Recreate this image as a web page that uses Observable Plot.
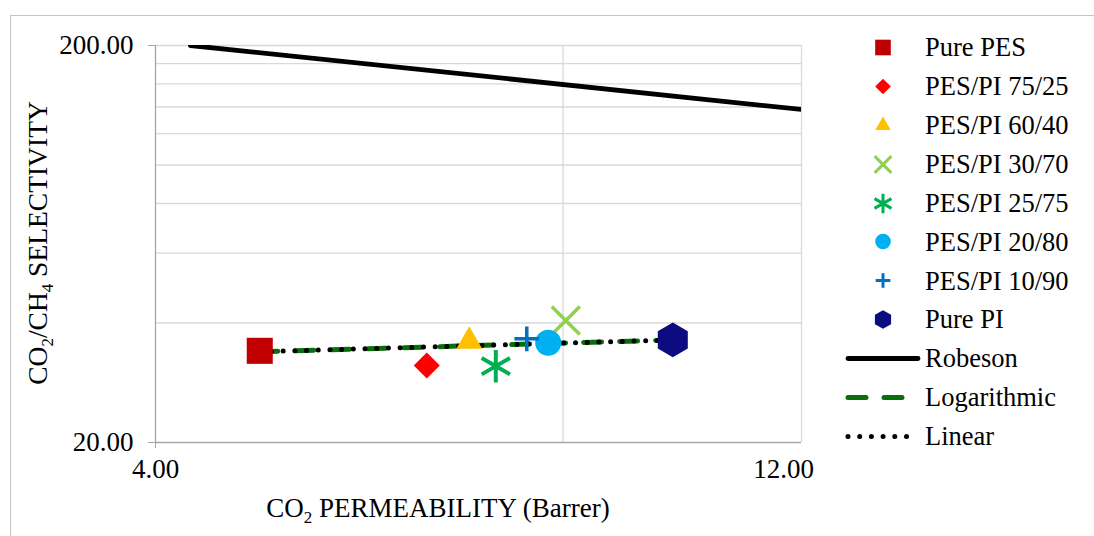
<!DOCTYPE html>
<html><head><meta charset="utf-8">
<script src="https://cdn.jsdelivr.net/npm/d3@7"></script>
<script src="https://cdn.jsdelivr.net/npm/@observablehq/plot@0.6"></script>
<style>
body{margin:0;background:#fff;}
#wrap, #wrap *{font-family:"Liberation Serif","Times New Roman",serif !important;}
#wrap{position:relative;width:1094px;height:536px;overflow:hidden;background:#fff;}
#border{position:absolute;left:10px;top:15px;width:1200px;height:600px;border:1px solid #c6c6c6;box-sizing:border-box;}
#chart{position:absolute;left:0;top:0;}
#chart svg text{font-family:"Liberation Serif",serif !important;}
.title{position:absolute;font-size:27px;color:#000;white-space:nowrap;line-height:1;}
.title sub{font-size:17px;vertical-align:-6px;line-height:0;}
#ytitle{left:38px;top:243px;font-size:27.5px;transform:translate(-50%,-50%) rotate(-90deg);}
#xtitle{left:438px;top:508px;transform:translate(-50%,-50%);}
#legend{position:absolute;left:845px;top:28px;}
.row{display:flex;align-items:center;height:38.9px;}
.row svg{width:80px;height:38.9px;flex:none;}
.row span{font-size:26.5px;color:#000;white-space:nowrap;line-height:1;}
</style>
</head><body>
<div id="wrap">
  <div id="border"></div>
  <div id="chart"></div>
  <div class="title" id="ytitle">CO<sub>2</sub>/CH<sub>4</sub> SELECTIVITY</div>
  <div class="title" id="xtitle">CO<sub>2</sub> PERMEABILITY (Barrer)</div>
  <div id="legend"></div>
</div>
<script>
// ---- data ----
const series = ["Pure PES","PES/PI 75/25","PES/PI 60/40","PES/PI 30/70","PES/PI 25/75","PES/PI 20/80","PES/PI 10/90","Pure PI"];
const permeability = [4.776, 6.345, 6.82, 8.037, 7.135, 7.80, 7.521, 9.641];
const selectivity  = [34.04, 31.26, 36.82, 40.59, 31.13, 35.67, 36.49, 36.28];
const robesonX = [4.245, 12];
const robesonY = [200, 138.0];
const logTrendX = [4.776, 9.641];
const logTrendY = [33.85, 36.25];
const linTrendX = [4.776, 9.641];
const linTrendY = [33.85, 36.25];
const xTicks = [4, 12];
const yTicks = [20, 200];
const xGrid = [8, 12];
const yGrid = [40, 60, 80, 100, 120, 140, 160, 180, 200];

// ---- styles ----
const styles = [
  {symbol:"square",  fill:"#C00000", r:14.7},
  {symbol:"square",  fill:"#FF0000", r:10.4, rotate:45},
  {symbol:"triangle",fill:"#FFC000", r:9.6, dy:4},
  {symbol:"times",   stroke:"#92D050", r:12.8, sw:3.5},
  {symbol:"asterisk",stroke:"#00B050", r:15.5, sw:4},
  {symbol:"circle",  fill:"#00B0F0", r:13},
  {symbol:"plus",    stroke:"#0070C0", r:8, sw:3.5},
  {symbol:"hexagon", fill:"#0C0C80", r:15}
];

const points = series.map((s,i)=>({series:s, x:permeability[i], y:selectivity[i], i}));
const toXY = (xs,ys)=>xs.map((x,i)=>({x, y:ys[i]}));

const dotMarks = points.map(p=>{
  const st = styles[p.i];
  const o = {x:"x", y:"y", symbol:()=>st.symbol, r:st.r};
  if (st.fill){ o.fill = st.fill; o.stroke = "none"; }
  else { o.fill = "none"; o.stroke = st.stroke; o.strokeWidth = st.sw; }
  if (st.rotate) o.rotate = st.rotate;
  if (st.dy) o.dy = st.dy;
  return Plot.dot([p], o);
});

const fmt = d=>d.toFixed(2);
const chart = Plot.plot({
  width:1094, height:536,
  marginLeft:155, marginRight:293, marginTop:45, marginBottom:94,
  style:{fontFamily:"Liberation Serif, serif", fontSize:"27px", color:"#000", background:"transparent", overflow:"visible"},
  x:{type:"log", domain:[4,12]},
  y:{type:"log", domain:[20,200]},
  symbol:{type:"identity"},
  marks:[
    Plot.ruleY(yGrid, {stroke:"#d9d9d9", strokeWidth:1.3}),
    Plot.ruleX(xGrid, {stroke:"#d9d9d9", strokeWidth:1.3}),
    Plot.ruleX([4], {stroke:"#a6a6a6", strokeWidth:1.3}),
    Plot.ruleY([20], {stroke:"#a6a6a6", strokeWidth:1.3}),
    Plot.axisY(yTicks, {tickSize:7, tickPadding:15, tickFormat:fmt, stroke:"#a6a6a6", fill:"#000", fontSize:27, label:null}),
    Plot.axisX([xTicks[0]], {tickSize:6, tickPadding:10, tickFormat:fmt, stroke:"#a6a6a6", fill:"#000", fontSize:27, label:null}),
    Plot.axisX([xTicks[1]], {tickSize:0, tickPadding:16, tickFormat:fmt, fill:"#000", fontSize:27, label:null, dx:-18}),
    Plot.line(toXY(robesonX, robesonY), {x:"x", y:"y", stroke:"#000", strokeWidth:4.8, clip:true}),
    Plot.line(toXY(logTrendX, logTrendY), {x:"x", y:"y", stroke:"#0a6e0a", strokeWidth:5, strokeDasharray:"18,18", strokeLinecap:"round"}),
    Plot.line(toXY(linTrendX, linTrendY), {x:"x", y:"y", stroke:"#000", strokeWidth:5, strokeDasharray:"0,11.7", strokeLinecap:"round"}),
    ...dotMarks
  ]
});
document.getElementById("chart").appendChild(chart);

// ---- legend ----
const legend = document.getElementById("legend");
const ns = "http://www.w3.org/2000/svg";
const symMap = {square:d3.symbolSquare, triangle:d3.symbolTriangle, times:d3.symbolTimes, asterisk:d3.symbolAsterisk, circle:d3.symbolCircle, plus:d3.symbolPlus};
function hexPath(r){ const rx=r, ry=r*Math.sqrt(4/3), hy=ry/2;
  return `M0,${ry}L${rx},${hy}L${rx},${-hy}L0,${-ry}L${-rx},${-hy}L${-rx},${hy}Z`; }
series.forEach((s,i)=>{
  const st = styles[i];
  const row = document.createElement("div"); row.className="row";
  const svg = document.createElementNS(ns,"svg");
  const path = document.createElementNS(ns,"path");
  const lr = st.r*0.6;
  const d = st.symbol==="hexagon" ? hexPath(lr*0.9) : d3.symbol(symMap[st.symbol], Math.PI*lr*lr)();
  path.setAttribute("d", d);
  path.setAttribute("transform", `translate(38,19.5)${st.rotate?` rotate(${st.rotate})`:""}`);
  if (st.fill){ path.setAttribute("fill", st.fill); }
  else { path.setAttribute("fill","none"); path.setAttribute("stroke", st.stroke); path.setAttribute("stroke-width", 3); }
  svg.appendChild(path); row.appendChild(svg);
  const t = document.createElement("span"); t.textContent = s; row.appendChild(t);
  legend.appendChild(row);
});
const lineItems = [
  {name:"Robeson", stroke:"#000", dash:null, w:4.8},
  {name:"Logarithmic", stroke:"#0a6e0a", dash:"18,18", w:5},
  {name:"Linear", stroke:"#000", dash:"0,11.7", w:5}
];
lineItems.forEach(it=>{
  const row = document.createElement("div"); row.className="row";
  const svg = document.createElementNS(ns,"svg");
  const ln = document.createElementNS(ns,"line");
  ln.setAttribute("x1",3); ln.setAttribute("x2",73); ln.setAttribute("y1",19.5); ln.setAttribute("y2",19.5);
  ln.setAttribute("stroke", it.stroke); ln.setAttribute("stroke-width", it.w); ln.setAttribute("stroke-linecap","round");
  if (it.dash) ln.setAttribute("stroke-dasharray", it.dash);
  svg.appendChild(ln); row.appendChild(svg);
  const t = document.createElement("span"); t.textContent = it.name; row.appendChild(t);
  legend.appendChild(row);
});
</script>
</body></html>
